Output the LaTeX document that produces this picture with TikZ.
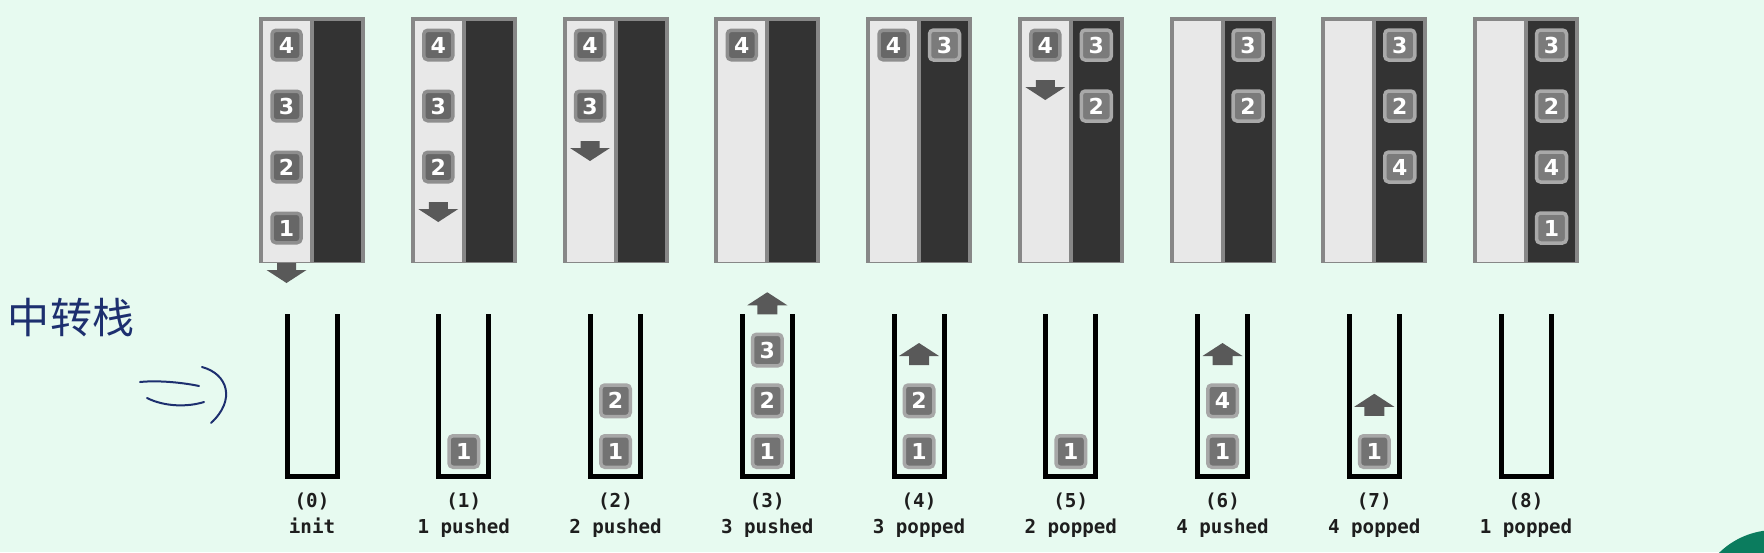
\documentclass[tikz,border=0pt]{standalone}
\usepackage{fontspec}
\newfontfamily\labfont{DejaVu Sans Mono}
\newfontfamily\digfont{DejaVu Sans}
\newfontfamily\cjkfont{Noto Sans CJK SC}
\definecolor{bgc}{HTML}{E7FAF0}
\definecolor{greenc}{HTML}{0B7C5E}
\definecolor{panelrim}{HTML}{878787}
\definecolor{lightcol}{HTML}{E8E8E8}
\definecolor{darkcol}{HTML}{333333}
\definecolor{trimL}{HTML}{8E8E8E}
\definecolor{tinL}{HTML}{676767}
\definecolor{trimD}{HTML}{A9A9A9}
\definecolor{tinD}{HTML}{7B7B7B}
\definecolor{trimS}{HTML}{A7A7A7}
\definecolor{tinS}{HTML}{737373}
\definecolor{arrowc}{HTML}{595959}
\definecolor{navy}{HTML}{1D2F6F}
\definecolor{labc}{HTML}{1E1E1E}
\newcommand{\ltile}[4]{\node[tileL] (#1) at ({259+151.75*#2+27.5},{45+61*#3}) {#4};}
\newcommand{\dtile}[4]{\node[tileD] (#1) at ({259+151.75*#2+78.5},{45+61*#3}) {#4};}
\newcommand{\stile}[4]{\node[tileS] (#1) at ({259+151.75*#2+53},{451.5-50.75*#3}) {#4};}
\newcommand{\mydarr}[2]{%
  \pgfmathsetmacro{\ax}{259+151.75*#1+27.5}%
  \pgfmathsetmacro{\ay}{45+61*#2-26}%
  \fill[arrowc] (\ax-9.5,\ay) -- (\ax+9.5,\ay) -- (\ax+9.5,\ay+7) -- (\ax+20,\ay+7)
     -- (\ax,\ay+20) -- (\ax-20,\ay+7) -- (\ax-9.5,\ay+7) -- cycle;}
\newcommand{\myuarr}[2]{%
  \pgfmathsetmacro{\ax}{259+151.75*#1+53}%
  \pgfmathsetmacro{\ay}{451.5-50.75*#2-7}%
  \fill[arrowc] (\ax,\ay) -- (\ax+20,\ay+13) -- (\ax+10,\ay+13) -- (\ax+10,\ay+22)
     -- (\ax-10,\ay+22) -- (\ax-10,\ay+13) -- (\ax-20,\ay+13) -- cycle;}
\begin{document}
\begin{tikzpicture}[x=0.5pt,y=-0.5pt,
  tileL/.style={rectangle, rounded corners=2pt, fill=tinL, draw=trimL, line width=1.75pt,
    minimum width=14.5pt, minimum height=14.75pt, inner sep=0pt, text=white,
    font=\digfont\bfseries\fontsize{11}{11}\selectfont},
  tileD/.style={tileL, fill=tinD, draw=trimD, minimum width=15pt, minimum height=15pt},
  tileS/.style={tileL, fill=tinS, draw=trimS, minimum width=14.75pt, minimum height=15.75pt},
  stackline/.style={draw=black, line width=2.5pt, line join=miter},
  labtext/.style={anchor=base, text=labc, inner sep=0pt, font=\labfont\bfseries\fontsize{9.6}{11}\selectfont},
  handline/.style={draw=navy, line width=1pt, line cap=round}]
\useasboundingbox (0,0) rectangle (1764,552);
\fill[bgc] (0,0) rectangle (1764,552);
\begin{scope}
  \clip (0,0) rectangle (1764,552);
  \fill[greenc] (1775,610) circle[radius=40pt];
\end{scope}
% panels and stacks
\foreach \i in {0,...,8}{
  \pgfmathsetmacro{\X}{259+151.75*\i}
  \fill[panelrim] (\X,17) rectangle (\X+106,263);
  \fill[lightcol] (\X+4,21) rectangle (\X+51,262);
  \fill[darkcol] (\X+55,21) rectangle (\X+102,262);
  \draw[stackline] (\X+28,314) -- (\X+28,476.5) -- (\X+78,476.5) -- (\X+78,314);
}
% labels
\foreach \i/\t in {0/init,1/1 pushed,2/2 pushed,3/3 pushed,4/3 popped,5/2 popped,6/4 pushed,7/4 popped,8/1 popped}{
  \pgfmathsetmacro{\C}{259+151.75*\i+53}
  \node[labtext] (num\i) at (\C,507) {(\i)};
  \node[labtext] (txt\i) at (\C,533) {\t};
}
% arrows
\mydarr{0}{4}
\mydarr{1}{3}
\mydarr{2}{2}
\mydarr{5}{1}
\myuarr{3}{3}
\myuarr{4}{2}
\myuarr{6}{2}
\myuarr{7}{1}
% panel 0
\ltile{p0n4}{0}{0}{4}\ltile{p0n3}{0}{1}{3}\ltile{p0n2}{0}{2}{2}\ltile{p0n1}{0}{3}{1}
% panel 1
\ltile{p1n4}{1}{0}{4}\ltile{p1n3}{1}{1}{3}\ltile{p1n2}{1}{2}{2}
\stile{s1n1}{1}{0}{1}
% panel 2
\ltile{p2n4}{2}{0}{4}\ltile{p2n3}{2}{1}{3}
\stile{s2n1}{2}{0}{1}\stile{s2n2}{2}{1}{2}
% panel 3
\ltile{p3n4}{3}{0}{4}
\stile{s3n1}{3}{0}{1}\stile{s3n2}{3}{1}{2}\stile{s3n3}{3}{2}{3}
% panel 4
\ltile{p4n4}{4}{0}{4}\dtile{p4d3}{4}{0}{3}
\stile{s4n1}{4}{0}{1}\stile{s4n2}{4}{1}{2}
% panel 5
\ltile{p5n4}{5}{0}{4}\dtile{p5d3}{5}{0}{3}\dtile{p5d2}{5}{1}{2}
\stile{s5n1}{5}{0}{1}
% panel 6
\dtile{p6d3}{6}{0}{3}\dtile{p6d2}{6}{1}{2}
\stile{s6n1}{6}{0}{1}\stile{s6n4}{6}{1}{4}
% panel 7
\dtile{p7d3}{7}{0}{3}\dtile{p7d2}{7}{1}{2}\dtile{p7d4}{7}{2}{4}
\stile{s7n1}{7}{0}{1}
% panel 8
\dtile{p8d3}{8}{0}{3}\dtile{p8d2}{8}{1}{2}\dtile{p8d4}{8}{2}{4}\dtile{p8d1}{8}{3}{1}
% handwriting
\node[text=navy, inner sep=0pt, font=\cjkfont\fontsize{21}{21}\selectfont] (hand) at (71,318) {中转栈};
\draw[handline] (140,382) .. controls (160,380) and (185,383) .. (199,386);
\draw[handline] (147,398) .. controls (165,407) and (188,407) .. (204,402);
\draw[handline] (202,367) .. controls (228,374) and (236,400) .. (211,423);
\end{tikzpicture}
\end{document}
